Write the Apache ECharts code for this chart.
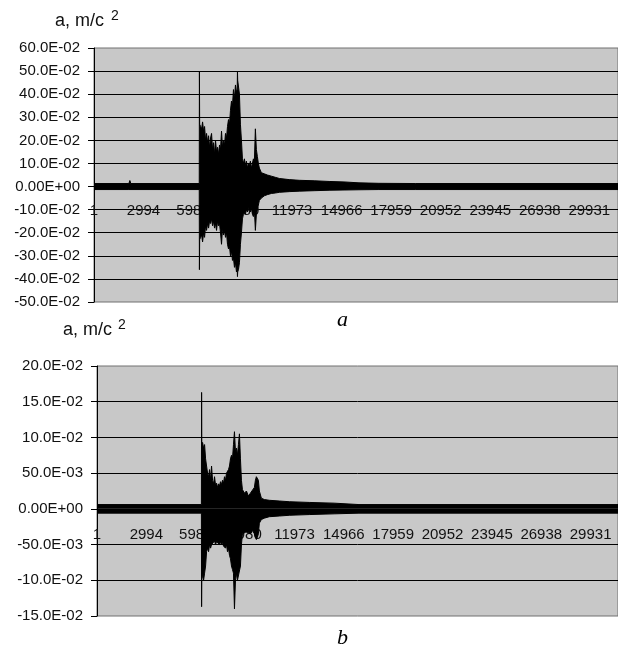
<!DOCTYPE html>
<html>
<head>
<meta charset="utf-8">
<script src="https://cdn.jsdelivr.net/npm/echarts@6/dist/echarts.min.js"></script>
<style>
html,body{margin:0;padding:0;background:#fff;}
#c{width:618px;height:647px;}
</style>
</head>
<body>
<div id="c"></div>
<script>
// ---------- data (sample index, upper envelope, lower envelope) ----------
const xTickLabels = ['1','2994','5987','8980','11973','14966','17959','20952','23945','26938','29931'];
const yTickLabelsTop = ['-50.0E-02','-40.0E-02','-30.0E-02','-20.0E-02','-10.0E-02','0.00E+00','10.0E-02','20.0E-02','30.0E-02','40.0E-02','50.0E-02','60.0E-02'];
const yTickLabelsBot = ['-15.0E-02','-10.0E-02','-50.0E-03','0.00E+00','50.0E-03','10.0E-02','15.0E-02','20.0E-02'];
const yTitle = 'a, m/c';
const yTitleSup = '2';
const captionTop = 'a';
const captionBot = 'b';

// chart a
const topX = [
  0, 2107, 2167, 2227, 6360, 6370, 6385,
  6441, 6502, 6562, 6622, 6682, 6742, 6803, 6863, 6923, 6983,
  7043, 7104, 7164, 7224, 7284, 7344, 7405, 7465, 7525, 7585,
  7645, 7706, 7766, 7826, 7886, 7946, 8007, 8067, 8127, 8187,
  8247, 8308, 8368, 8428, 8488, 8548, 8609, 8655, 8669, 8683,
  8729, 8789, 8849, 8910, 8970, 9030, 9090, 9150, 9211, 9271,
  9331, 9391, 9451, 9512, 9572, 9632, 9692, 9752, 9813, 9873,
  9933, 9993, 10114, 10294, 10475, 10716, 10956, 11197, 11799, 12401,
  13304, 14207, 15110, 16013, 17217, 19445, 19505, 19565, 31304, 31364,
  31424, 31665
];
const topHi = [
  0.013, 0.013, 0.026, 0.013, 0.013, 0.50, 0.27,
  0.26, 0.25, 0.28, 0.24, 0.26, 0.20, 0.23, 0.19, 0.22, 0.17,
  0.21, 0.23, 0.16, 0.19, 0.14, 0.20, 0.15, 0.17, 0.14, 0.18,
  0.16, 0.24, 0.17, 0.20, 0.18, 0.23, 0.21, 0.26, 0.29, 0.27,
  0.33, 0.37, 0.35, 0.42, 0.38, 0.44, 0.41, 0.42, 0.50, 0.46,
  0.46, 0.40, 0.27, 0.20, 0.12, 0.10, 0.12, 0.09, 0.11, 0.08,
  0.10, 0.09, 0.11, 0.08, 0.10, 0.12, 0.11, 0.25, 0.16, 0.13,
  0.10, 0.08, 0.06, 0.055, 0.05, 0.045, 0.04, 0.035, 0.03, 0.027,
  0.025, 0.022, 0.02, 0.016, 0.014, 0.013, 0.02, 0.013, 0.013, 0.02,
  0.013, 0.013
];
const topLo = [
  -0.013, -0.013, -0.013, -0.013, -0.013, -0.36, -0.23,
  -0.22, -0.21, -0.24, -0.20, -0.22, -0.17, -0.19, -0.16, -0.18, -0.15,
  -0.16, -0.14, -0.17, -0.15, -0.18, -0.16, -0.19, -0.15, -0.17, -0.16,
  -0.20, -0.25, -0.18, -0.21, -0.19, -0.22, -0.20, -0.25, -0.27, -0.26,
  -0.30, -0.28, -0.32, -0.31, -0.35, -0.33, -0.37, -0.36, -0.39, -0.37,
  -0.36, -0.33, -0.25, -0.20, -0.14, -0.12, -0.11, -0.12, -0.10, -0.11,
  -0.09, -0.10, -0.11, -0.09, -0.12, -0.13, -0.10, -0.19, -0.12, -0.10,
  -0.08, -0.06, -0.05, -0.04, -0.035, -0.03, -0.028, -0.025, -0.022, -0.02,
  -0.018, -0.016, -0.015, -0.014, -0.013, -0.013, -0.013, -0.013, -0.013, -0.013,
  -0.013, -0.013
];

// chart b
const botX = [
  0, 6330, 6342, 6355,
  6402, 6463, 6523, 6584, 6644, 6704, 6765, 6825, 6886, 6946,
  7006, 7067, 7127, 7188, 7248, 7308, 7369, 7429, 7490, 7550,
  7610, 7671, 7731, 7792, 7852, 7912, 7973, 8033, 8094, 8154,
  8214, 8275, 8335, 8396, 8456, 8516, 8577, 8637, 8698, 8758,
  8818, 8939, 9060, 9181, 9302, 9422, 9543, 9604, 9664, 9724,
  9785, 9845, 9966, 10147, 10449, 11053, 11657, 12865, 14375, 15885,
  31590
];
const botHi = [
  0.006, 0.006, 0.163, 0.09,
  0.093, 0.085, 0.09, 0.07, 0.06, 0.05, 0.045, 0.055, 0.04, 0.06,
  0.04, 0.035, 0.045, 0.033, 0.036, 0.03, 0.035, 0.032, 0.038, 0.034,
  0.04, 0.036, 0.045, 0.04, 0.05, 0.048, 0.055, 0.06, 0.07, 0.075,
  0.07, 0.09, 0.108, 0.08, 0.085, 0.075, 0.09, 0.105, 0.07, 0.04,
  0.027, 0.022, 0.025, 0.018, 0.022, 0.02, 0.03, 0.04, 0.045, 0.045,
  0.04, 0.025, 0.015, 0.013, 0.012, 0.011, 0.01, 0.009, 0.008, 0.006,
  0.006
];
const botLo = [
  -0.006, -0.006, -0.137, -0.09,
  -0.095, -0.10, -0.09, -0.08, -0.06, -0.055, -0.06, -0.05, -0.055, -0.05,
  -0.048, -0.05, -0.045, -0.05, -0.046, -0.048, -0.044, -0.05, -0.046, -0.05,
  -0.047, -0.052, -0.05, -0.055, -0.05, -0.06, -0.055, -0.065, -0.07, -0.08,
  -0.085, -0.09, -0.14, -0.10, -0.09, -0.10, -0.10, -0.10, -0.08, -0.05,
  -0.035, -0.035, -0.032, -0.03, -0.035, -0.03, -0.035, -0.04, -0.043, -0.04,
  -0.035, -0.02, -0.015, -0.013, -0.011, -0.01, -0.009, -0.008, -0.007, -0.006,
  -0.006
];

// ---------- chart ----------
const FONT = '"Liberation Sans", Arial, sans-serif';
const xStep = 2993;
const chart = echarts.init(document.getElementById('c'), null, {renderer:'canvas'});

function yAxisCfg(idx, min, max, interval, labels){
  return {
    type:'value', gridIndex:idx, min:min, max:max, interval:interval,
    axisLine:{show:true, onZero:false, lineStyle:{color:'#000', width:1}},
    axisTick:{show:true, length:6, lineStyle:{color:'#000'}},
    axisLabel:{margin:14, color:'#111', fontFamily:FONT, fontSize:15,
      formatter:function(v){ return labels[Math.round((v-min)/interval)] || ''; }},
    splitLine:{show:true, showMinLine:false, showMaxLine:false, lineStyle:{color:'#000', width:1}}
  };
}
// the category axis crosses the value axis at zero (Excel style)
function xAxisCfg(idx, max, margin, offset){
  return {
    type:'value', gridIndex:idx, min:0, max:max, interval:xStep,
    position:'bottom', offset:offset,
    axisLine:{show:true, onZero:false, lineStyle:{color:'#000', width:1}},
    axisTick:{show:false},
    splitLine:{show:false},
    axisLabel:{margin:margin, color:'#111', fontFamily:FONT, fontSize:15, showMaxLabel:false,
      formatter:function(v){ const k = Math.round(v/xStep); return (Math.abs(v-k*xStep)<1) ? (xTickLabels[k]||'') : ''; }}
  };
}
function envSeries(xi, yi, xs, ys){
  return {
    type:'line', xAxisIndex:xi, yAxisIndex:yi,
    data: xs.map((x,i)=>[x, ys[i]]),
    symbol:'none', showSymbol:false, sampling:null, smooth:false,
    lineStyle:{color:'#000', width:1},
    areaStyle:{color:'#000', opacity:1, origin:0},
    silent:true, animation:false, z:2
  };
}

const option = {
  animation:false,
  backgroundColor:'#fff',
  grid:[
    {left:94, top:48, right:-2, height:254, show:true, backgroundColor:'#c8c8c8', borderColor:'#707070', borderWidth:1},
    {left:97, top:366, right:-2, height:250, show:true, backgroundColor:'#c8c8c8', borderColor:'#707070', borderWidth:1}
  ],
  xAxis:[ xAxisCfg(0, 31665, 17, -115.5), xAxisCfg(1, 31590, 18, -106.5) ],
  yAxis:[ yAxisCfg(0, -0.5, 0.6, 0.1, yTickLabelsTop), yAxisCfg(1, -0.15, 0.2, 0.05, yTickLabelsBot) ],
  series:[
    envSeries(0,0, topX, topHi), envSeries(0,0, topX, topLo),
    envSeries(1,1, botX, botHi), envSeries(1,1, botX, botLo)
  ],
  graphic:[
    {type:'text', left:55, top:12, style:{text:yTitle, font:'18px '+FONT, fill:'#111'}},
    {type:'text', left:111, top:9, style:{text:yTitleSup, font:'14px '+FONT, fill:'#111'}},
    {type:'text', left:63, top:321, style:{text:yTitle, font:'18px '+FONT, fill:'#111'}},
    {type:'text', left:118, top:318, style:{text:yTitleSup, font:'14px '+FONT, fill:'#111'}},
    {type:'text', left:337, top:309, style:{text:captionTop, font:'italic 22px "Liberation Serif", "Times New Roman", serif', fill:'#000'}},
    {type:'text', left:337, top:627, style:{text:captionBot, font:'italic 22px "Liberation Serif", "Times New Roman", serif', fill:'#000'}}
  ]
};
chart.setOption(option);
</script>
</body>
</html>
